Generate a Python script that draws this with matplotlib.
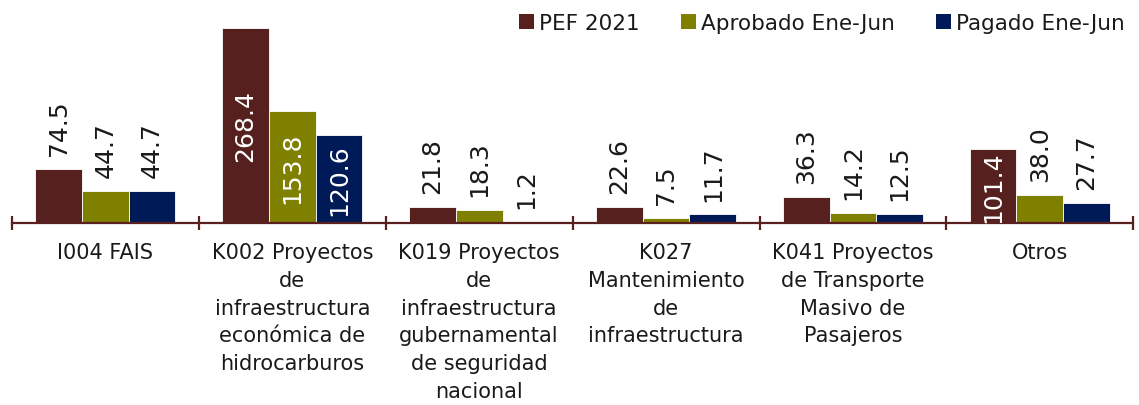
import matplotlib
matplotlib.use('Agg')
import matplotlib.pyplot as plt
from matplotlib.patches import Patch
import numpy as np

categories = [
    'I004 FAIS',
    'K002 Proyectos\nde\ninfraestructura\neconómica de\nhidrocarburos',
    'K019 Proyectos\nde\ninfraestructura\ngubernamental\nde seguridad\nnacional',
    'K027\nMantenimiento\nde\ninfraestructura',
    'K041 Proyectos\nde Transporte\nMasivo de\nPasajeros',
    'Otros',
]
series_names = ['PEF 2021', 'Aprobado Ene-Jun', 'Pagado Ene-Jun']
pef_2021 = [74.5, 268.4, 21.8, 22.6, 36.3, 101.4]
aprobado = [44.7, 153.8, 18.3, 7.5, 14.2, 38.0]
pagado = [44.7, 120.6, 1.2, 11.7, 12.5, 27.7]

colors = ['#56201E', '#7F7F00', '#001A57']
axis_color = '#5A2020'
text_color = '#1A1A1A'

plt.rcParams['font.family'] = ['DejaVu Sans']

fig = plt.figure(figsize=(11.39, 4.06), dpi=100)
ax = fig.add_axes([0.0105, 0.4483, 0.9845, 0.537])

x = np.arange(len(categories))
width = 0.25
offsets = [-width, 0, width]

for vals, off, col in zip([pef_2021, aprobado, pagado], offsets, colors):
    bars = ax.bar(x + off, vals, width, color=col, edgecolor='white', linewidth=0.6)
    for b, v in zip(bars, vals):
        cx = b.get_x() + b.get_width() / 2
        if v > 100:
            # las barras grandes llevan la etiqueta dentro, en blanco
            ax.text(cx, v / 2, f'{v:.1f}', rotation=90, ha='center', va='center',
                    color='white', fontsize=18)
        else:
            ax.annotate(f'{v:.1f}', (cx, v), xytext=(0, 10), textcoords='offset points',
                        rotation=90, ha='center', va='bottom', color=text_color, fontsize=18)

ax.set_xlim(-0.5, len(categories) - 0.5)
ax.set_ylim(0, 300)

for s in ['top', 'right', 'left']:
    ax.spines[s].set_visible(False)
ax.spines['bottom'].set_color(axis_color)
ax.spines['bottom'].set_linewidth(1.6)

ax.set_yticks([])
# marcas en los limites de cada categoria, etiquetas en el centro
ax.set_xticks(np.arange(-0.5, len(categories)), minor=False)
ax.set_xticklabels([])
ax.tick_params(axis='x', which='major', direction='inout', length=10, width=1.6, color=axis_color)
ax.set_xticks(x, minor=True)
ax.set_xticklabels(categories, minor=True, fontsize=15, color=text_color, linespacing=1.48)
ax.tick_params(axis='x', which='minor', length=0, pad=14)

handles = [Patch(facecolor=c, edgecolor='none') for c in colors]
fig.legend(handles, series_names, loc='upper right', bbox_to_anchor=(1.0, 1.0), ncol=3,
           frameon=False, fontsize=15.5, handlelength=0.7, handleheight=0.7,
           handletextpad=0.25, columnspacing=1.9, borderaxespad=0.25, labelcolor=text_color)

fig.savefig('out.png', dpi=100)
